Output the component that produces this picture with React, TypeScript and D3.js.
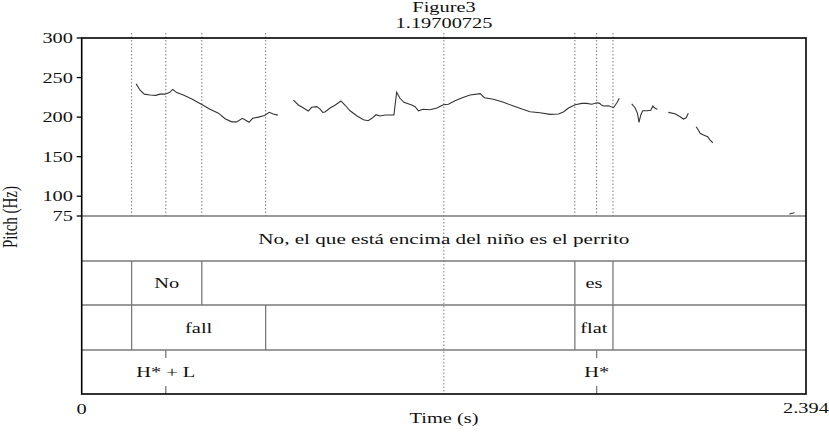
import React from "react";
import * as d3 from "d3";

const W = 829;
const H = 435;

// pitch contour pieces, [time (s), Hz]
const pitchSeg1 = [
  [0.18, 242], [0.193, 234], [0.207, 229], [0.226, 228], [0.245, 227.5], [0.259, 229],
  [0.275, 229], [0.29, 231], [0.301, 235], [0.314, 231], [0.336, 228], [0.364, 223],
  [0.397, 216], [0.424, 210], [0.452, 205], [0.474, 198], [0.496, 194], [0.512, 194],
  [0.531, 198.5], [0.542, 196], [0.553, 193.5], [0.565, 198.5], [0.584, 200], [0.604, 202],
  [0.62, 206], [0.633, 204], [0.648, 202.5],
];
const pitchSeg2 = [
  [0.7, 221.6], [0.716, 215.3], [0.733, 211.5], [0.749, 207.7], [0.76, 212.4], [0.777, 213.2],
  [0.788, 210.2], [0.797, 206], [0.804, 206.5], [0.821, 211.5], [0.837, 215], [0.857, 220.4],
  [0.87, 215.3], [0.887, 208], [0.909, 201.8], [0.931, 196.7], [0.947, 195.5], [0.959, 198.5],
  [0.973, 203], [0.986, 201.4], [1.003, 202.7], [1.032, 202.7], [1.041, 231.4], [1.052, 223.8],
  [1.065, 218.7], [1.091, 215.3], [1.102, 213.2], [1.113, 208], [1.129, 209.9], [1.151, 209.4],
  [1.174, 211.5], [1.195, 215.7], [1.212, 216.2], [1.234, 220.7], [1.262, 225], [1.284, 228],
  [1.317, 229.6], [1.331, 224.5], [1.361, 222.5], [1.394, 218.7], [1.427, 214], [1.455, 210.2],
  [1.482, 206.8], [1.515, 205.6], [1.548, 203.5], [1.576, 203.9], [1.592, 206.5], [1.609, 211.5],
  [1.631, 215.7], [1.653, 217.4], [1.669, 217.4], [1.686, 216.2], [1.703, 218.2], [1.712, 217.4],
  [1.719, 214.9], [1.725, 214], [1.741, 214.4], [1.758, 211.9], [1.769, 218.2], [1.777, 223.8],
];
const pitchSeg3 = [
  [1.818, 216.6], [1.829, 211.9], [1.837, 204.8], [1.842, 193.4], [1.848, 202.7], [1.854, 208],
  [1.868, 208], [1.881, 208.6], [1.888, 214], [1.895, 211.1], [1.903, 209.9],
];
const pitchSeg4 = [
  [1.939, 206], [1.961, 204.3], [1.978, 200.5], [1.989, 197.6], [1.998, 199.2], [2.005, 204.8],
];
const pitchSeg5 = [
  [2.031, 187.9], [2.038, 183.7], [2.044, 179.5], [2.055, 177.4], [2.069, 175.2], [2.077, 171],
  [2.086, 167.6],
];
const pitchSeg6 = [[2.339, 77.5], [2.356, 79.2]];
const pitchSegments = [pitchSeg1, pitchSeg2, pitchSeg3, pitchSeg4, pitchSeg5, pitchSeg6];

const pitchTicks = [75, 100, 150, 200, 250, 300];
const totalDur = 2.394;
const cursorTime = 1.19700725;

const sentence = "No, el que está encima del niño es el perrito";
// interval tiers: [start, end, label]
const wordTier = [[0.165, 0.397, "No"], [1.63, 1.756, "es"]];
const contourTier = [[0.165, 0.608, "fall"], [1.63, 1.756, "flat"]];
// point tier: [time, label]
const toneTier = [[0.278, "H* + L"], [1.702, "H*"]];
// dotted guides through the pitch panel
const guideTimes = [0.165, 0.278, 0.397, 0.608, 1.63, 1.702, 1.756];

const SX = 1.36; // the picture is stretched sideways
const FONT = "'Liberation Serif', 'Times New Roman', serif";

const T = ({ x, y, children, anchor = "middle", rot = false, sx = SX }: any) => (
  <text
    transform={rot ? `translate(${x},${y}) rotate(-90) scale(1,${sx})` : `translate(${x},${y}) scale(${sx},1)`}
    textAnchor={anchor}
    fontFamily={FONT}
    fontSize={15}
    fill="#111"
  >
    {children}
  </text>
);

export default function App() {
  const left = 81.7, right = 806, top = 38, pitchBottom = 216, bottom = 394;
  const x = d3.scaleLinear().domain([0, totalDur]).range([left, right]);
  const y = d3.scaleLinear().domain([75, 300]).range([pitchBottom, top]);
  const line = d3.line<number[]>().x((d) => x(d[0])).y((d) => y(d[1]));

  const tierTops = [pitchBottom, 261, 305, 350];
  const tierH = [45, 44, 45, 44];
  const grey = "#7a7a7a";

  return (
    <svg width={W} height={H} style={{ position: "absolute", left: 0, top: 0, background: "#fff" }}>
      <T x={444} y={12}>Figure3</T>
      <T x={444} y={28}>{String(cursorTime)}</T>

      {/* guides */}
      {guideTimes.map((t, i) => (
        <line key={i} x1={x(t)} x2={x(t)} y1={33} y2={pitchBottom} stroke={grey} strokeWidth={1} strokeDasharray="1.5,2" />
      ))}
      <line x1={x(cursorTime)} x2={x(cursorTime)} y1={33} y2={bottom} stroke={grey} strokeWidth={1} strokeDasharray="1.5,2" />

      {/* pitch */}
      {pitchSegments.map((s, i) => (
        <path key={i} d={line(s as number[][]) || ""} fill="none" stroke="#333" strokeWidth={1.1} />
      ))}

      {/* tier separators */}
      {tierTops.map((ty, i) => (
        <line key={i} x1={left} x2={right} y1={ty} y2={ty} stroke={grey} strokeWidth={1.3} />
      ))}

      {/* tier 1 */}
      <T x={x(totalDur / 2)} y={tierTops[0] + tierH[0] / 2 + 5} sx={1.41}>{sentence}</T>

      {/* tier 2 words */}
      {wordTier.map((d: any, i) => (
        <g key={i}>
          <line x1={x(d[0])} x2={x(d[0])} y1={tierTops[1]} y2={tierTops[2]} stroke={grey} strokeWidth={1.3} />
          <line x1={x(d[1])} x2={x(d[1])} y1={tierTops[1]} y2={tierTops[2]} stroke={grey} strokeWidth={1.3} />
          <T x={(x(d[0]) + x(d[1])) / 2} y={tierTops[1] + tierH[1] / 2 + 5}>{d[2]}</T>
        </g>
      ))}

      {/* tier 3 contour */}
      {contourTier.map((d: any, i) => (
        <g key={i}>
          <line x1={x(d[0])} x2={x(d[0])} y1={tierTops[2]} y2={tierTops[3]} stroke={grey} strokeWidth={1.3} />
          <line x1={x(d[1])} x2={x(d[1])} y1={tierTops[2]} y2={tierTops[3]} stroke={grey} strokeWidth={1.3} />
          <T x={(x(d[0]) + x(d[1])) / 2} y={tierTops[2] + tierH[2] / 2 + 5}>{d[2]}</T>
        </g>
      ))}

      {/* tier 4 tones */}
      {toneTier.map((d: any, i) => (
        <g key={i}>
          <line x1={x(d[0])} x2={x(d[0])} y1={tierTops[3]} y2={tierTops[3] + 8} stroke={grey} strokeWidth={1.3} />
          <line x1={x(d[0])} x2={x(d[0])} y1={bottom - 8} y2={bottom} stroke={grey} strokeWidth={1.3} />
          <T x={x(d[0])} y={tierTops[3] + tierH[3] / 2 + 5}>{d[1]}</T>
        </g>
      ))}

      {/* frame */}
      <rect x={left} y={top} width={right - left} height={bottom - top} fill="none" stroke="#000" strokeWidth={1.6} />

      {/* pitch axis */}
      {pitchTicks.map((v) => (
        <g key={v}>
          <line x1={left - 5} x2={left} y1={y(v)} y2={y(v)} stroke="#000" strokeWidth={1.3} />
          <T x={73} y={y(v) + 5} anchor="end">{v}</T>
        </g>
      ))}
      <T x={17} y={217} rot>Pitch (Hz)</T>

      {/* time axis */}
      <T x={left} y={414}>0</T>
      <T x={right} y={413}>{String(totalDur)}</T>
      <T x={444} y={423}>Time (s)</T>
    </svg>
  );
}
